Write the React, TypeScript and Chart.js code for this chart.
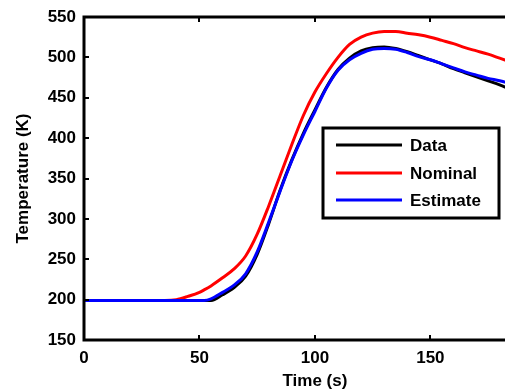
import React, { useEffect, useRef } from "react";
import { Chart, registerables } from "chart.js";

Chart.register(...registerables);

const times = [0, 35, 40, 45, 50, 52, 55, 60, 65, 70, 75, 80, 85, 90, 95, 100, 105, 110, 115, 120, 125, 130, 135, 140, 145, 150, 155, 160, 165, 170, 175, 180, 185];
const dataSeries = [199, 199, 199, 199, 199, 199, 199, 206, 215, 229, 256, 294, 336, 373, 406, 435, 463, 485, 499, 508, 512, 513, 511, 507, 502, 497, 492, 486, 481, 476, 471, 466, 460];
const nominalSeries = [199, 199, 200, 204, 209, 212, 217, 227, 238, 254, 281, 316, 354, 392, 428, 457, 480, 500, 516, 525, 530, 532, 532, 530, 528, 525, 521, 517, 512, 508, 504, 499, 494];
const estimateSeries = [199, 199, 199, 199, 199, 199, 201, 209, 218, 232, 259, 296, 335, 372, 404, 433, 462, 484, 497, 505, 510, 511, 510, 506, 501, 497, 492, 487, 482, 478, 474, 471, 467];

const seriesLabels = ["Data", "Nominal", "Estimate"];
const seriesColors = ["#000000", "#ff0000", "#0000ff"];
const xTickStep = 50;
const yTickStep = 50;

const FONT = "'Liberation Sans', Arial, Helvetica, sans-serif";

const framePlugin = {
  id: "frame",
  afterDraw(chart: any) {
    const { ctx, chartArea } = chart;
    const xs = chart.scales.x;
    const ys = chart.scales.y;
    ctx.save();
    ctx.strokeStyle = "#000";
    ctx.lineWidth = 2;
    xs.ticks.forEach((t: any) => {
      const px = Math.round(xs.getPixelForValue(t.value));
      ctx.beginPath();
      ctx.moveTo(px, chartArea.bottom);
      ctx.lineTo(px, chartArea.bottom - 5);
      ctx.moveTo(px, chartArea.top);
      ctx.lineTo(px, chartArea.top + 5);
      ctx.stroke();
    });
    ys.ticks.forEach((t: any) => {
      const py = Math.round(ys.getPixelForValue(t.value));
      ctx.beginPath();
      ctx.moveTo(chartArea.left, py);
      ctx.lineTo(chartArea.left + 5, py);
      ctx.moveTo(chartArea.right, py);
      ctx.lineTo(chartArea.right - 5, py);
      ctx.stroke();
    });
    ctx.lineWidth = 3;
    ctx.strokeRect(chartArea.left, chartArea.top, chartArea.right - chartArea.left, chartArea.bottom - chartArea.top);

    const o = chart.options.plugins.boxLegend;
    ctx.fillStyle = "#fff";
    ctx.fillRect(o.left, o.top, o.right - o.left, o.bottom - o.top);
    ctx.lineWidth = 3;
    ctx.strokeStyle = "#000";
    ctx.strokeRect(o.left, o.top, o.right - o.left, o.bottom - o.top);
    ctx.font = `bold 17px ${FONT}`;
    ctx.textBaseline = "middle";
    ctx.textAlign = "left";
    chart.data.datasets.forEach((ds: any, i: number) => {
      const y = o.rows[i];
      ctx.strokeStyle = ds.borderColor;
      ctx.lineWidth = 3;
      ctx.beginPath();
      ctx.moveTo(o.lineX0, y);
      ctx.lineTo(o.lineX1, y);
      ctx.stroke();
      ctx.fillStyle = "#000";
      ctx.fillText(ds.label, o.textX, y + 1);
    });
    ctx.restore();
  },
};

export default function App() {
  const ref = useRef<HTMLCanvasElement | null>(null);
  useEffect(() => {
    if (!ref.current) return;
    const series = [dataSeries, nominalSeries, estimateSeries];
    const orders = [2, 1, 0];
    const chart = new Chart(ref.current, {
      type: "line",
      data: {
        datasets: series.map((s, i) => ({
          label: seriesLabels[i],
          data: times.map((t, j) => ({ x: t, y: s[j] })),
          borderColor: seriesColors[i],
          backgroundColor: seriesColors[i],
          borderWidth: 3,
          pointRadius: 0,
          cubicInterpolationMode: "monotone" as const,
          order: orders[i],
        })),
      },
      options: {
        responsive: false,
        animation: false,
        devicePixelRatio: 1,
        layout: { padding: { top: 17, right: 14, left: 0, bottom: 0 } },
        plugins: {
          legend: { display: false },
          tooltip: { enabled: false },
          boxLegend: {
            left: 323, top: 128, right: 499, bottom: 218,
            rows: [145, 173, 200], lineX0: 336, lineX1: 402, textX: 410,
          },
        } as any,
        scales: {
          x: {
            type: "linear",
            min: 0,
            max: 200,
            grid: { display: false },
            border: { display: false },
            ticks: { stepSize: xTickStep, color: "#000", font: { family: FONT, size: 17, weight: "bold" }, padding: 0, maxRotation: 0 },
            title: { display: true, text: "Time (s)", color: "#000", font: { family: FONT, size: 17, weight: "bold" }, padding: { top: 0, bottom: -1 } },
            afterFit: (s: any) => { s.height = 51; },
          },
          y: {
            type: "linear",
            min: 150,
            max: 550,
            grid: { display: false },
            border: { display: false },
            ticks: { stepSize: yTickStep, color: "#000", font: { family: FONT, size: 17, weight: "bold" }, padding: 0 },
            title: { display: true, text: "Temperature (K)", color: "#000", font: { family: FONT, size: 17, weight: "bold" }, padding: { top: 13, bottom: 0 } },
            afterFit: (s: any) => { s.width = 84; },
          },
        },
      },
      plugins: [framePlugin],
    });
    return () => chart.destroy();
  }, []);
  return (
    <div style={{ position: "fixed", left: 0, top: 0, width: 505, height: 391, overflow: "hidden", background: "#fff" }}>
      <canvas ref={ref} width={560} height={391} style={{ width: 560, height: 391, display: "block" }} />
    </div>
  );
}
